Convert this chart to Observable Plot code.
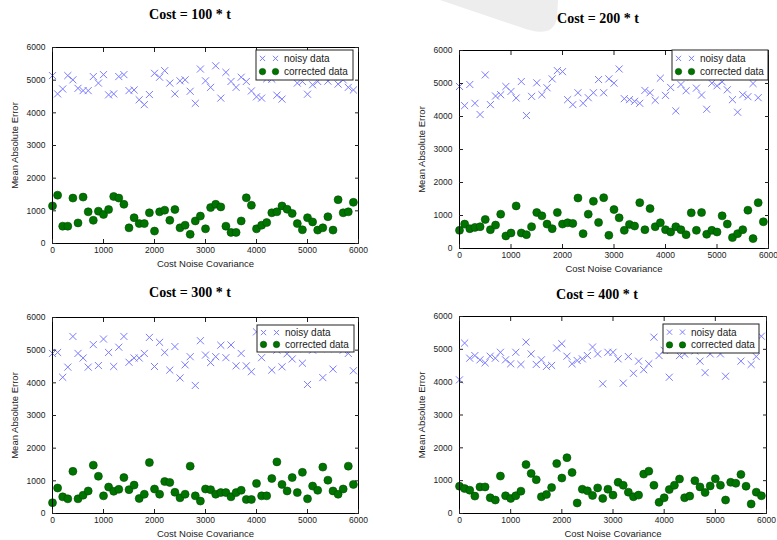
<!DOCTYPE html>
<html><head><meta charset="utf-8">
<script src="https://cdn.jsdelivr.net/npm/d3@7"></script>
<script src="https://cdn.jsdelivr.net/npm/@observablehq/plot@0.6"></script>
<style>
html,body{margin:0;padding:0;background:#fff;overflow:hidden;}
#root{position:relative;width:777px;height:540px;}
.panel{position:absolute;}
.title{position:absolute;font-family:"Liberation Serif","DejaVu Serif",serif;font-weight:bold;font-size:14px;transform:translate(-50%,-50%);white-space:nowrap;color:#000;}
.legend{position:absolute;}
</style></head><body><div id="root"></div>
<script>
const covariance = [0,100,200,300,400,500,600,700,800,900,1000,1100,1200,1300,1400,1500,1600,1700,1800,1900,2000,2100,2200,2300,2400,2500,2600,2700,2800,2900,3000,3100,3200,3300,3400,3500,3600,3700,3800,3900,4000,4100,4200,4300,4400,4500,4600,4700,4800,4900,5000,5100,5200,5300,5400,5500,5600,5700,5800,5900];
const axisTicks = [0,1000,2000,3000,4000,5000,6000];
const titles = ["Cost = 100 * t","Cost = 200 * t","Cost = 300 * t","Cost = 400 * t"];
const seriesNames = ["noisy data","corrected data"];
const xLabel = "Cost Noise Covariance";
const yLabel = "Mean Absolute Error";

const noisy100 = [5140,4580,4730,5140,5010,4750,4680,4680,5110,4910, 5170,4550,4580,5110,5170,4680,4700,4400,4250,4560, 5210,5090,5290,4910,4580,4980,5010,4660,4290,5340, 4980,4780,5440,4450,5240,4960,4780,5090,4960,4670, 4490,4450,5040,5030,4540,4420,5150,5300,4910,4960, 4570,4860,4960,5200,4970,5100,4880,5010,4780,4700];
const corrected100 = [1150,1480,530,530,1390,630,1420,970,710,990, 890,1040,1440,1390,1200,480,790,610,610,940, 380,970,1020,710,1040,480,560,280,690,840, 450,1100,1200,1120,530,340,340,690,1400,1170, 450,560,640,940,970,1150,1050,920,610,420, 790,660,410,480,820,410,1340,940,970,1260];
const noisy200 = [4910,4330,4970,4400,4060,5260,4360,4620,4660,4910, 4760,4560,5060,4030,4610,5020,4660,4870,5140,5390, 5360,4510,4360,4720,4400,4570,4720,5120,4720,5140, 5010,5440,4540,4510,4460,4400,4790,4720,4490,5160, 4640,4880,4170,4970,4780,5200,4860,4650,4220,5010, 4930,5050,4810,4510,4130,4660,4600,5000,4570,5250];
const corrected200 = [550,740,600,640,660,880,570,710,1040,380, 470,1290,470,420,660,1090,990,740,600,1090, 740,780,760,1530,450,1040,1430,790,1540,400, 1180,930,550,730,680,1390,570,1210,660,780, 570,500,660,570,420,1080,550,1090,430,550, 500,990,740,330,450,570,1160,300,1390,810];
const noisy300 = [4900,4930,4170,4480,5420,4900,4760,4480,5170,4530, 5340,4930,4500,5090,5420,4630,4760,4760,4900,5390, 4500,5240,4930,4390,5110,4150,4550,4800,3920,5290, 4850,4620,4800,5150,4770,5160,4520,4900,4520,4340, 5560,4770,5100,4390,5000,4490,4890,4730,5050,4600, 3950,5000,5100,4160,5050,4420,5150,5000,4900,4370];
const corrected300 = [330,780,510,450,1290,450,560,690,1480,1140, 540,810,680,740,1100,730,870,460,590,1560, 750,590,980,950,650,480,590,1450,540,380, 750,730,590,640,640,510,640,710,430,430, 920,540,540,1070,1580,890,690,1100,640,1260, 450,840,710,1420,1020,690,590,750,1450,890];
const noisy400 = [4070,5190,4730,4810,4680,4590,4790,4730,4910,4680, 4560,4910,4540,5220,4860,4540,4680,4480,4510,5040, 5170,4790,4560,4660,4710,4810,5070,4860,3950,4910, 4910,4710,3970,4780,4270,4640,4380,4560,5370,4810, 4970,4150,5000,4810,4860,5050,4950,4640,4290,4860, 5100,4860,4180,5000,5100,4640,5050,4540,4780,5400];
const corrected400 = [830,760,710,530,810,810,480,410,1140,540, 460,540,680,1490,1220,1030,510,580,790,1520, 1080,1700,1250,320,740,690,550,780,460,740, 560,950,860,650,510,560,1200,1290,860,340, 480,730,860,1050,480,530,1000,810,640,840, 1060,860,410,950,920,1190,830,290,650,540];

const noisyColor = "#7b7bff";
const corrFill = "#007400";
const corrStroke = "#004a00";

const panels = [
  {title: titles[0], noisy: noisy100, corrected: corrected100, fl:52, fr:358, ft:47, fb:243, tx:190, ty:15, lg:[256,50,97,30]},
  {title: titles[1], noisy: noisy200, corrected: corrected200, fl:459, fr:768, ft:50, fb:248, tx:598, ty:19, lg:[672,50,96,30]},
  {title: titles[2], noisy: noisy300, corrected: corrected300, fl:52, fr:358, ft:317, fb:513, tx:190, ty:293, lg:[257,325,97,27]},
  {title: titles[3], noisy: noisy400, corrected: corrected400, fl:459, fr:766, ft:316, fb:513, tx:597, ty:295, lg:[663,324,96,29]}
];

const root = document.getElementById("root");

// faint grey watermark shape at top
const wm = d3.select(root).append("svg").attr("width",777).attr("height",60)
  .style("position","absolute").style("left","0px").style("top","0px");
wm.append("path").attr("d","M440,0 L520,27 Q553,40 557,18 L558,0 Z").attr("fill","#ededed");

const fmt = d3.format("d");

panels.forEach(p => {
  const mL = 52, mR = 8, mT = 10, mB = 32;
  const w = p.fr - p.fl + mL + mR, h = p.fb - p.ft + mT + mB;
  const noisyData = covariance.map((c,i) => ({c, v: p.noisy[i]}));
  const corrData = covariance.map((c,i) => ({c, v: p.corrected[i]}));
  const chart = Plot.plot({
    width: w, height: h, marginLeft: mL, marginRight: mR, marginTop: mT, marginBottom: mB,
    style: {fontFamily: "'Liberation Sans', Arial, sans-serif", fontSize: "8.5px", color: "#222", background: "transparent", overflow: "visible"},
    x: {domain: [0,6000]},
    y: {domain: [0,6000]},
    marks: [
      Plot.dot(noisyData, {x: "c", y: "v", symbol: "times", r: 3.3, stroke: noisyColor, strokeWidth: 1}),
      Plot.dot(corrData, {x: "c", y: "v", r: 4, fill: corrFill, stroke: corrStroke, strokeWidth: 0.6}),
      Plot.frame({stroke: "#000", strokeWidth: 1}),
      Plot.axisX({ticks: axisTicks, anchor: "bottom", tickSize: -4, tickPadding: 7, tickFormat: fmt, label: null}),
      Plot.axisX({ticks: axisTicks, anchor: "top", tickSize: -4, tickFormat: () => "", label: null}),
      Plot.axisY({ticks: axisTicks, anchor: "left", tickSize: -4, tickPadding: 11, tickFormat: fmt, label: null}),
      Plot.axisY({ticks: axisTicks, anchor: "right", tickSize: -4, tickFormat: () => "", label: null}),
      Plot.axisX({ticks: [], anchor: "bottom", tickSize: 0, label: xLabel, labelAnchor: "center", labelArrow: "none", labelOffset: 23, fontSize: 9.5}),
      Plot.axisY({ticks: [], anchor: "left", tickSize: 0, label: yLabel, labelAnchor: "center", labelArrow: "none", labelOffset: 41, fontSize: 9.5})
    ]
  });
  const holder = document.createElement("div");
  holder.className = "panel";
  holder.style.left = (p.fl - mL) + "px";
  holder.style.top = (p.ft - mT) + "px";
  holder.appendChild(chart);
  root.appendChild(holder);

  const t = document.createElement("div");
  t.className = "title";
  t.style.left = p.tx + "px";
  t.style.top = p.ty + "px";
  t.textContent = p.title;
  root.appendChild(t);

  // legend (opaque box over the axes, like the original)
  const [lx, ly, lw, lh] = p.lg;
  const lg = d3.select(root).append("svg").attr("class","legend")
    .attr("width", lw + 2).attr("height", lh + 2)
    .style("left", (lx - 1) + "px").style("top", (ly - 1) + "px");
  lg.append("rect").attr("x",1).attr("y",1).attr("width",lw).attr("height",lh)
    .attr("fill","#fff").attr("stroke","#222").attr("stroke-width",1);
  const r1 = 1 + lh * 0.28, r2 = 1 + lh * 0.72;
  [7.5, 20.5].forEach(mx => {
    const s = 2.6;
    lg.append("path").attr("d", `M${mx-s},${r1-s}L${mx+s},${r1+s}M${mx-s},${r1+s}L${mx+s},${r1-s}`)
      .attr("stroke", noisyColor).attr("stroke-width",1).attr("fill","none");
    lg.append("circle").attr("cx", mx).attr("cy", r2).attr("r", 3.2)
      .attr("fill", corrFill).attr("stroke", corrStroke).attr("stroke-width",0.6);
  });
  [[r1, seriesNames[0]], [r2, seriesNames[1]]].forEach(([yy, txt]) => {
    lg.append("text").attr("x", 29).attr("y", yy).attr("dy","0.35em")
      .attr("font-family","'Liberation Sans', Arial, sans-serif").attr("font-size", 10)
      .attr("fill","#222").text(txt);
  });
});
</script></body></html>
